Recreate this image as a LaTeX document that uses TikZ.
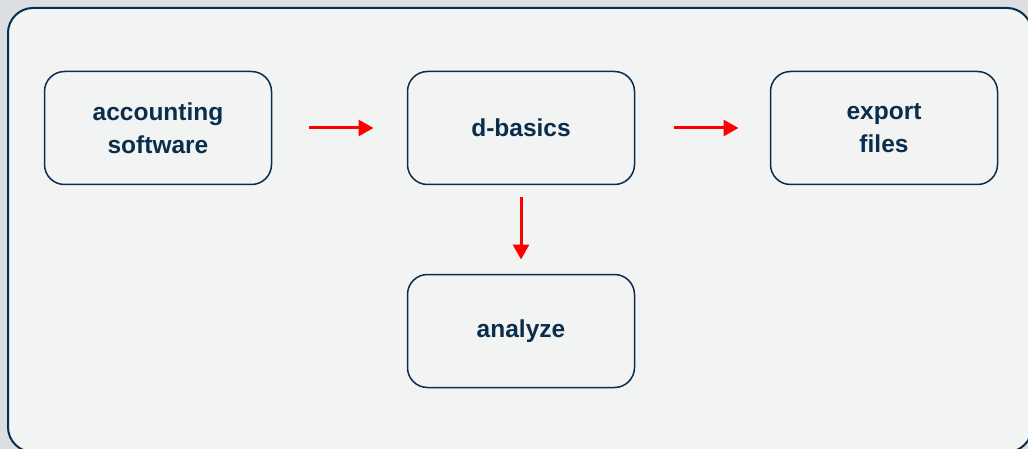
\documentclass[tikz,border=0pt]{standalone}
\usepackage{fontspec}
\setmainfont{Liberation Sans}
\usetikzlibrary{positioning,arrows.meta}

\definecolor{navy}{HTML}{0B2D4C}
\definecolor{panel}{HTML}{F2F4F4}
\definecolor{backdrop}{HTML}{DCDFE2}

\tikzset{
  stage/.style={draw=navy, line width=1.5pt, rounded corners=20pt, fill=panel,
    minimum width=227pt, minimum height=113pt, outer sep=0pt, align=center, text=navy,
    font=\bfseries\fontsize{24.5}{33}\selectfont},
  flow/.style={draw=red, line width=3pt, -{Triangle[length=15pt,width=16pt]}}
}

\begin{document}
\begin{tikzpicture}[x=1pt, y=-1pt]
	%frame
	\fill[backdrop] (0,0) rectangle (1028,449);
	\useasboundingbox (0,0) rectangle (1028,449);
	\begin{scope}
		\clip (0,0) rectangle (1028,449);
		\draw[navy, fill=panel, line width=2pt, rounded corners=25pt] (8,8) rectangle (1032,452);
	\end{scope}

	%stages
	\node[stage] (software) at (158,128) {accounting\\software};
	\node[stage, right=136pt of software] (basics) {d-basics};
	\node[stage, right=136pt of basics] (export) {export\\files};
	\node[stage, below=90pt of basics] (analyze) {analyze};

	%arrows
	\draw[flow, shorten <=37pt, shorten >=34pt] (software) -- (basics);
	\draw[flow, shorten <=39pt, shorten >=32pt] (basics) -- (export);
	\draw[flow, shorten <=13pt, shorten >=15pt] (basics) -- (analyze);
\end{tikzpicture}
\end{document}
